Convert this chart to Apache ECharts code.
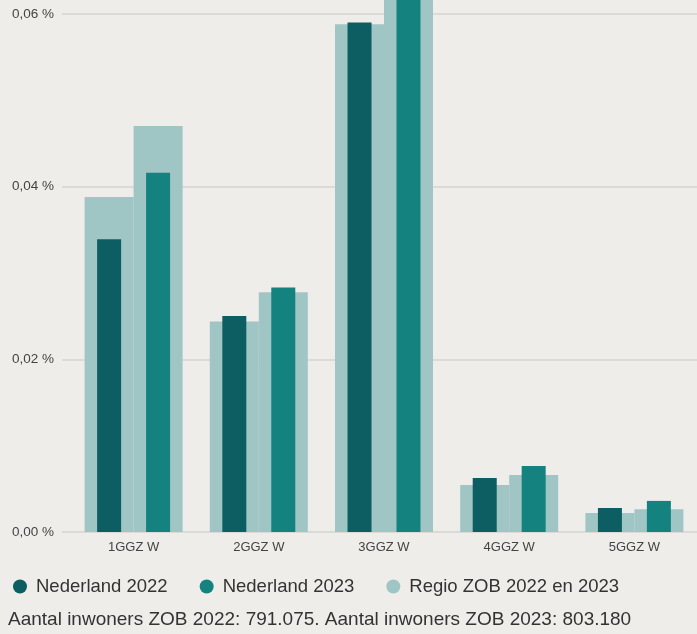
<!DOCTYPE html>
<html>
<head>
<meta charset="utf-8">
<script src="https://cdn.jsdelivr.net/npm/echarts@6/dist/echarts.min.js"></script>
<style>
html, body { margin: 0; padding: 0; background: #eeede9; }
#chart { width: 697px; height: 634px; }
</style>
</head>
<body>
<div id="chart"></div>
<script>
// categorieen en waarden (aandeel inwoners, in %)
var categories = ['1GGZ W', '2GGZ W', '3GGZ W', '4GGZ W', '5GGZ W'];
var nl2022 = [0.0339, 0.0250, 0.0590, 0.00625, 0.00278];
var nl2023 = [0.0416, 0.0283, 0.0640, 0.00765, 0.0036];
var regio2022 = [0.0388, 0.02436, 0.0588, 0.00544, 0.0022];
var regio2023 = [0.0470, 0.02777, 0.0630, 0.0066, 0.00263];
var yTicks = [0, 0.02, 0.04, 0.06];
var yMax = 0.0616; // bovenkant van de afbeelding (grafiek is afgesneden)
var footerText = 'Aantal inwoners ZOB 2022: 791.075. Aantal inwoners ZOB 2023: 803.180';

var fontFam = "'Liberation Sans', Arial, sans-serif";
var cDark = '#0d5e62';
var cTeal = '#14827e';
var cLight = '#9fc5c5';

var myChart = echarts.init(document.getElementById('chart'));

var option = {
    backgroundColor: '#eeede9',
    animation: false,
    textStyle: { fontFamily: fontFam },
    grid: [
        { left: 62, right: 0, top: 0, bottom: 102 },   // rasterlijnen + labels
        { left: 71, right: -4, top: 0, bottom: 102 }   // staven
    ],
    legend: {
        left: 8,
        top: 572,
        icon: 'circle',
        itemWidth: 14,
        itemHeight: 14,
        itemGap: 32,
        textStyle: { fontSize: 18.5, color: '#333', padding: [0, 0, 0, 4], fontFamily: fontFam },
        data: ['Nederland 2022', 'Nederland 2023', 'Regio ZOB 2022 en 2023']
    },
    xAxis: [
        { gridIndex: 0, type: 'value', show: false, min: 0, max: 1 },
        {
            gridIndex: 1,
            type: 'category',
            data: categories,
            axisLine: { show: false },
            axisTick: { show: false },
            axisLabel: { color: '#444', fontSize: 13, margin: 9, fontFamily: fontFam }
        },
        { gridIndex: 1, type: 'category', data: categories, show: false }
    ],
    yAxis: [
        {
            gridIndex: 0,
            type: 'value',
            min: 0,
            max: yMax,
            interval: 0.02,
            axisLine: { show: false },
            axisTick: { show: false },
            splitLine: { showMaxLine: false, lineStyle: { color: '#d4d3cf', width: 1.5 } },
            axisLabel: {
                color: '#444',
                fontSize: 13.5,
                margin: 8,
                fontFamily: fontFam,
                formatter: function (v) {
                    if (yTicks.indexOf(v) < 0) return '';
                    return v.toFixed(2).replace('.', ',') + ' %';
                }
            }
        },
        { gridIndex: 1, type: 'value', min: 0, max: yMax, show: false }
    ],
    series: [
        {
            name: 'Regio ZOB 2022 en 2023',
            type: 'bar',
            xAxisIndex: 1, yAxisIndex: 1,
            barWidth: 49,
            barGap: 0,
            itemStyle: { color: cLight },
            data: regio2022
        },
        {
            name: 'Regio ZOB 2022 en 2023',
            type: 'bar',
            xAxisIndex: 1, yAxisIndex: 1,
            barWidth: 49,
            barGap: 0,
            itemStyle: { color: cLight },
            data: regio2023
        },
        {
            name: 'Nederland 2022',
            type: 'bar',
            xAxisIndex: 2, yAxisIndex: 1,
            barWidth: 24,
            barGap: '104%',
            z: 3,
            itemStyle: { color: cDark },
            data: nl2022
        },
        {
            name: 'Nederland 2023',
            type: 'bar',
            xAxisIndex: 2, yAxisIndex: 1,
            barWidth: 24,
            barGap: '104%',
            z: 3,
            itemStyle: { color: cTeal },
            data: nl2023
        }
    ],
    graphic: [
        {
            type: 'text',
            left: 8,
            top: 610,
            style: { text: footerText, fontSize: 19, fill: '#333', fontFamily: fontFam }
        }
    ]
};

myChart.setOption(option);
</script>
</body>
</html>
